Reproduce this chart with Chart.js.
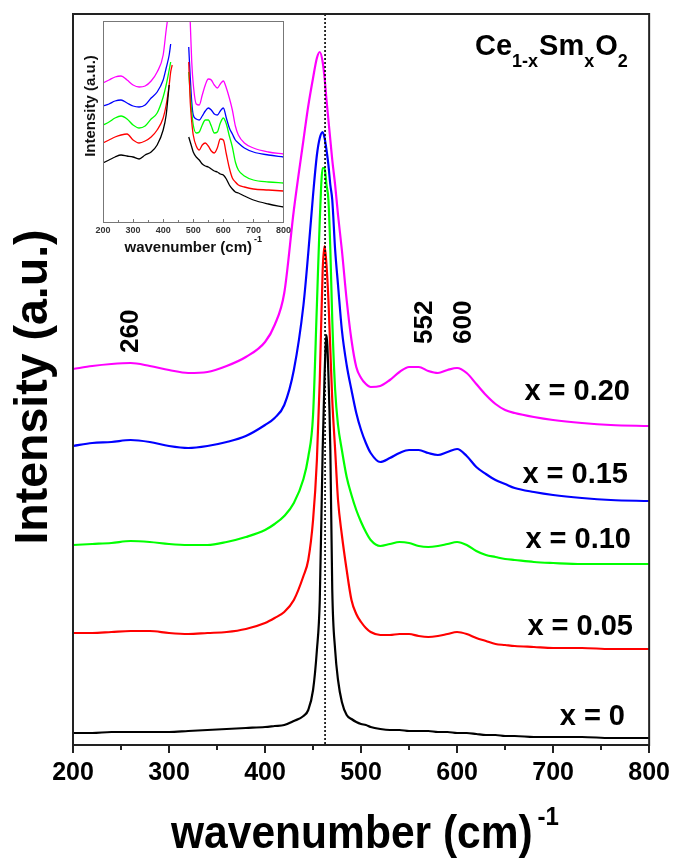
<!DOCTYPE html>
<html>
<head>
<meta charset="utf-8">
<script src="https://cdn.jsdelivr.net/npm/chart.js@4.4.0/dist/chart.umd.min.js"></script>
<style>
  html, body { margin: 0; padding: 0; background: #fff; }
  #wrap { position: relative; width: 675px; height: 860px; }
  #mainChart { position: absolute; left: 0; top: 0; }
  #insetChart { position: absolute; left: 78px; top: 16px; }
</style>
</head>
<body>
<div id="wrap">
  <canvas id="mainChart" width="675" height="860"></canvas>
  <canvas id="insetChart" width="216" height="244"></canvas>
</div>
<script>
// Raman spectra of Ce(1-x)Sm(x)O2, offset curves (intensity in arbitrary units)
const WAVENUMBER = [200,220,240,260,280,300,320,340,360,380,400,410,420,430,440,445,450,454,457,460,
  462,464,466,468,470,473,476,480,485,490,495,500,505,510,520,530,540,550,560,570,
  580,590,600,610,620,630,640,650,660,680,700,730,760,800];

const X_0 = [12,12,13,13,13,13,14,15,16,17,18,19,20,24,29,35,55,95,145,295,
  370,410,370,295,155,95,65,43,30,26,23,21,20,18,16,15,15,14,14,14,
  13,13,12,12,11,10,10,9,9,8,8,8,7,7];
const X_005 = [112,112,113,114,114,112,111,112,113,116,122,127,133,145,169,185,225,285,365,475,
  499,480,445,395,345,295,245,210,175,145,131,123,117,113,110,110,111,111,109,108,
  109,111,113,111,107,104,101,100,99,98,97,97,96,96];
const X_010 = [200,201,202,204,203,201,200,200,203,208,215,221,229,242,266,288,330,440,525,577,
  577,560,545,495,425,355,320,295,268,250,235,223,213,205,199,201,203,202,199,198,
  199,201,203,200,194,190,188,186,185,183,182,181,181,181];
const X_015 = [299,302,303,305,303,299,297,299,303,309,320,327,340,375,440,492,550,590,607,613,
  607,595,580,560,545,495,460,415,380,355,332,315,302,292,283,287,292,295,295,292,
  290,293,296,289,278,271,265,261,257,253,250,247,245,244];
const X_020 = [376,379,381,382,379,375,372,373,379,388,403,420,452,535,605,639,667,687,693,683,
  667,645,625,605,585,560,530,495,445,405,378,367,361,358,359,365,373,378,378,374,
  372,375,377,372,361,350,341,335,332,328,325,322,320,319];

// inset: zoomed-in view, the main peak is left out (null = gap)
const INSET_WAVENUMBER = [200,220,240,260,280,300,320,340,360,380,400,410,420,425,430,450,480,485,490,495,
  500,510,520,530,540,550,560,570,580,590,600,610,620,630,640,650,670,700,750,800];
const INSET_X_0 = [59,62,65,67,66,65,63,67,70,77,92,107,137,null,null,null,null,85,80,75,
  70,65,62,58,56,55,53,51,50,48,47,43,37,33,30,29,26,22,18,15];
const INSET_X_005 = [79,82,85,87,88,82,79,81,85,92,104,117,137,150,157,null,null,160,120,100,
  87,76,72,77,79,76,71,69,74,83,82,68,54,44,40,37,35,33,32,31];
const INSET_X_010 = [97,100,104,106,103,97,94,96,103,109,125,137,152,160,null,null,null,150,128,110,
  97,89,90,97,102,102,96,89,90,99,104,98,86,75,60,52,46,42,40,39];
const INSET_X_015 = [116,118,121,122,119,116,115,117,124,130,142,154,167,178,null,null,null,175,145,120,
  107,103,102,106,111,114,112,108,107,111,114,104,94,88,82,79,74,70,67,65];
const INSET_X_020 = [139,142,145,146,142,137,135,136,141,150,167,192,215,230,250,null,260,235,200,160,
  138,118,117,127,137,143,142,137,134,138,141,134,124,112,96,87,79,74,70,68];

const SAMPLE_LABELS = ['x = 0', 'x = 0.05', 'x = 0.10', 'x = 0.15', 'x = 0.20'];
const COLORS = ['#000000', '#ff0000', '#00ff00', '#0000ff', '#ff00ff'];
const PEAK_LABELS = ['260', '552', '600'];
const MAIN_PEAK = 462.5;

const FONT = '"Liberation Sans", Arial, Helvetica, sans-serif';

function pts(xs, ys) {
  return xs.map((x, i) => ({ x: x, y: ys[i] }));
}

const mainSeries = [X_0, X_005, X_010, X_015, X_020];
const insetSeries = [INSET_X_0, INSET_X_005, INSET_X_010, INSET_X_015, INSET_X_020];

// ---------- main chart ----------
const mainDecor = {
  id: 'mainDecor',
  afterDraw(chart) {
    const ctx = chart.ctx;
    const a = chart.chartArea;
    const xs = chart.scales.x;
    ctx.save();
    // minor ticks
    ctx.strokeStyle = '#222';
    ctx.lineWidth = 2;
    for (let v = 250; v < 800; v += 100) {
      const px = Math.round(xs.getPixelForValue(v));
      ctx.beginPath();
      ctx.moveTo(px, a.bottom);
      ctx.lineTo(px, a.bottom + 5);
      ctx.stroke();
    }
    // dotted line at main F2g peak
    const dx = xs.getPixelForValue(MAIN_PEAK);
    ctx.setLineDash([2, 2]);
    ctx.lineWidth = 1.6;
    ctx.strokeStyle = '#000';
    ctx.beginPath();
    ctx.moveTo(dx, a.top);
    ctx.lineTo(dx, a.bottom);
    ctx.stroke();
    ctx.setLineDash([]);
    // frame
    ctx.lineWidth = 2;
    ctx.strokeStyle = '#222';
    ctx.strokeRect(a.left, a.top, a.right - a.left, a.bottom - a.top);

    ctx.fillStyle = '#000';
    // sample labels (right aligned)
    ctx.font = 'bold 29px ' + FONT;
    ctx.textAlign = 'right';
    ctx.textBaseline = 'alphabetic';
    const labelPos = [[625, 725], [633, 635], [631, 548], [628, 483], [630, 400]];
    SAMPLE_LABELS.forEach((t, i) => ctx.fillText(t, labelPos[i][0], labelPos[i][1]));

    // peak labels, rotated
    ctx.font = 'bold 26px ' + FONT;
    ctx.textAlign = 'left';
    const peakPos = [[138, 353], [432, 344], [471, 344]];
    PEAK_LABELS.forEach((t, i) => {
      ctx.save();
      ctx.translate(peakPos[i][0], peakPos[i][1]);
      ctx.rotate(-Math.PI / 2);
      ctx.fillText(t, 0, 0);
      ctx.restore();
    });

    // Ce1-xSmxO2
    let cx = 475;
    const big = 'bold 29px ' + FONT, small = 'bold 18px ' + FONT;
    const parts = [['Ce', big, 55], ['1-x', small, 67], ['Sm', big, 55], ['x', small, 67], ['O', big, 55], ['2', small, 67]];
    parts.forEach(p => {
      ctx.font = p[1];
      ctx.fillText(p[0], cx, p[2]);
      cx += ctx.measureText(p[0]).width + (p[1] === small ? 1 : 0);
    });

    // x axis title, slightly condensed like the original
    const title = 'wavenumber (cm)';
    ctx.save();
    ctx.translate(171, 848);
    ctx.scale(0.925, 1);
    ctx.font = 'bold 46px ' + FONT;
    ctx.fillText(title, 0, 0);
    const tw = ctx.measureText(title).width;
    ctx.font = 'bold 26px ' + FONT;
    ctx.fillText('-1', tw + 5, -23);
    ctx.restore();

    // y axis title
    ctx.font = 'bold 46.5px ' + FONT;
    ctx.textAlign = 'center';
    ctx.save();
    ctx.translate(47, 387);
    ctx.rotate(-Math.PI / 2);
    ctx.fillText('Intensity (a.u.)', 0, 0);
    ctx.restore();
    ctx.restore();
  }
};

new Chart(document.getElementById('mainChart'), {
  type: 'line',
  data: {
    datasets: mainSeries.map((s, i) => ({
      label: SAMPLE_LABELS[i],
      data: pts(WAVENUMBER, s),
      borderColor: COLORS[i],
      borderWidth: 2.2,
      pointRadius: 0,
      cubicInterpolationMode: 'monotone',
      fill: false
    }))
  },
  options: {
    responsive: false,
    animation: false,
    devicePixelRatio: 1,
    layout: { padding: { top: 14, right: 24, left: 0, bottom: 0 } },
    plugins: { legend: { display: false }, tooltip: { enabled: false } },
    scales: {
      x: {
        type: 'linear',
        min: 200, max: 800,
        ticks: {
          stepSize: 100,
          color: '#000',
          padding: 5,
          maxRotation: 0,
          font: { family: FONT, size: 25, weight: 'bold' }
        },
        grid: { display: true, drawOnChartArea: false, drawTicks: true, tickLength: 8, color: '#222', lineWidth: 2 },
        border: { display: false },
        afterFit(s) { s.height = 115; }
      },
      y: {
        min: 0, max: 731,
        ticks: { display: false },
        grid: { display: false, drawTicks: false },
        border: { display: false },
        afterFit(s) { s.width = 73; }
      }
    }
  },
  plugins: [mainDecor]
});

// ---------- inset chart ----------
const insetDecor = {
  id: 'insetDecor',
  afterDraw(chart) {
    const ctx = chart.ctx;
    const a = chart.chartArea;
    const xs = chart.scales.x;
    ctx.save();
    ctx.strokeStyle = '#777';
    ctx.lineWidth = 1;
    for (let v = 250; v < 800; v += 50) {
      const px = Math.round(xs.getPixelForValue(v)) + 0.5;
      const len = v % 100 === 0 ? 3 : 2;
      ctx.beginPath();
      ctx.moveTo(px, a.bottom);
      ctx.lineTo(px, a.bottom - len);
      ctx.stroke();
    }
    ctx.strokeRect(Math.round(a.left) + 0.5, Math.round(a.top) + 0.5, Math.round(a.right - a.left), Math.round(a.bottom - a.top));

    ctx.fillStyle = '#111';
    ctx.textBaseline = 'alphabetic';
    ctx.font = 'bold 15px ' + FONT;
    const title = 'wavenumber (cm)';
    const tw = ctx.measureText(title).width;
    ctx.font = 'bold 9px ' + FONT;
    const sw = ctx.measureText('-1').width;
    const tx = (a.left + a.right) / 2 - (tw + sw + 2) / 2;
    ctx.font = 'bold 15px ' + FONT;
    ctx.textAlign = 'left';
    ctx.fillText(title, tx, 236);
    ctx.font = 'bold 9px ' + FONT;
    ctx.fillText('-1', tx + tw + 2, 226);

    ctx.font = 'bold 15px ' + FONT;
    ctx.textAlign = 'center';
    ctx.save();
    ctx.translate(17, 90);
    ctx.rotate(-Math.PI / 2);
    ctx.fillText('Intensity (a.u.)', 0, 0);
    ctx.restore();
    ctx.restore();
  }
};

new Chart(document.getElementById('insetChart'), {
  type: 'line',
  data: {
    datasets: insetSeries.map((s, i) => ({
      label: SAMPLE_LABELS[i],
      data: pts(INSET_WAVENUMBER, s),
      borderColor: COLORS[i],
      borderWidth: 1.3,
      pointRadius: 0,
      spanGaps: false,
      cubicInterpolationMode: 'monotone',
      fill: false
    }))
  },
  options: {
    responsive: false,
    animation: false,
    devicePixelRatio: 1,
    layout: { padding: { top: 5, right: 8, left: 0, bottom: 0 } },
    plugins: { legend: { display: false }, tooltip: { enabled: false } },
    scales: {
      x: {
        type: 'linear',
        min: 200, max: 800,
        ticks: {
          stepSize: 100,
          color: '#333',
          padding: 3,
          maxRotation: 0,
          font: { family: FONT, size: 9, weight: 'bold' }
        },
        grid: { display: false, drawTicks: false },
        border: { display: false },
        afterFit(s) { s.height = 38; }
      },
      y: {
        min: 0, max: 201,
        ticks: { display: false },
        grid: { display: false, drawTicks: false },
        border: { display: false },
        afterFit(s) { s.width = 25; }
      }
    }
  },
  plugins: [insetDecor]
});
</script>
</body>
</html>
